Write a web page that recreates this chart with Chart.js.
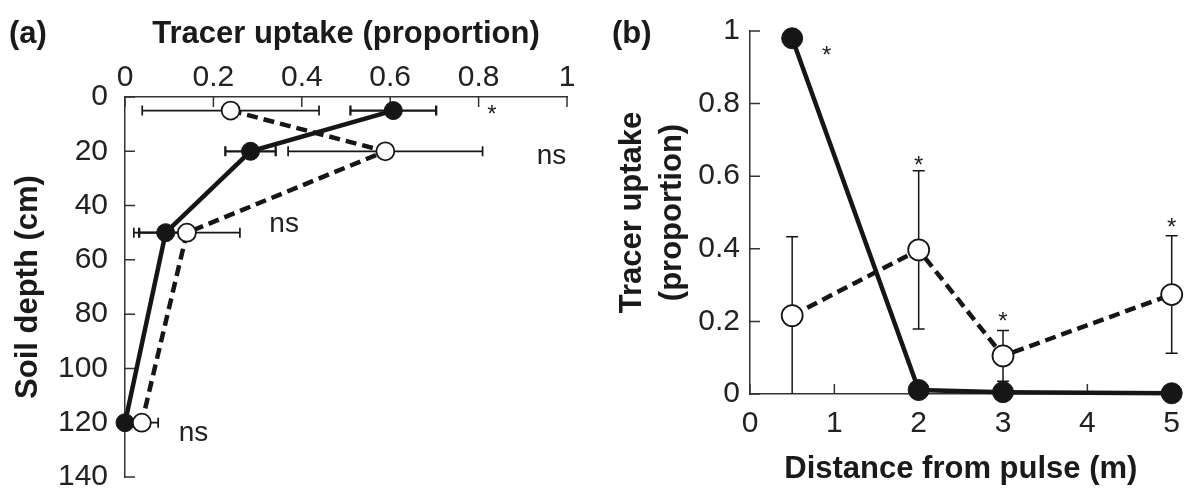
<!DOCTYPE html>
<html>
<head>
<meta charset="utf-8">
<title>Tracer uptake</title>
<script src="https://cdn.jsdelivr.net/npm/chart.js"></script>
<style>
    body { margin: 0; background: #fff; width: 1184px; height: 488px; overflow: hidden; position: relative; font-family: 'Liberation Sans', Arial, sans-serif; }
    .panel { position: absolute; top: 0; }
    #panelA { left: 0; }
    #panelB { left: 590px; }
    .tag { position: absolute; top: 14px; font-size: 31px; line-height: 37px; font-weight: bold; color: #1a1a1a; }
</style>
</head>
<body>
<canvas id="panelA" class="panel" width="590" height="488"></canvas>
<canvas id="panelB" class="panel" width="594" height="488"></canvas>
<div class="tag" style="left: 9px;">(a)</div>
<div class="tag" style="left: 612px;">(b)</div>

<script>
// --- DATA ---
// (a) tracer uptake down the soil profile
const depthCm = [5, 20, 50, 120];
const uptakeFilledA = [0.607, 0.284, 0.092, 0.0];
const errFilledA = [0.097, 0.057, 0.06, 0];
const uptakeOpenA = [0.239, 0.589, 0.14, 0.038];
const errOpenA = [0.2, 0.22, 0.12, 0.037];

// (b) tracer uptake with distance from the pulse
const distanceM = [0.5, 2, 3, 5];
const uptakeFilledB = [0.98, 0.011, 0.005, 0.002];
const uptakeOpenB = [0.216, 0.397, 0.105, 0.274];
const errOpenB = [0.217, 0.218, 0.07, 0.162];

// ticks
const uptakeTicks = [0, 0.2, 0.4, 0.6, 0.8, 1];
const uptakeLabels = ['0', '0.2', '0.4', '0.6', '0.8', '1'];
const depthTicks = [0, 20, 40, 60, 80, 100, 120, 140];
const distanceTicks = [0, 1, 2, 3, 4, 5];

// significance marks: [text, x, y] in data units
const notesA = [['*', 0.83, 5], ['ns', 0.965, 22], ['ns', 0.36, 47], ['ns', 0.155, 124]];
const notesB = [['*', 0.91, 0.945], ['*', 2, 0.64], ['*', 3, 0.21], ['*', 5, 0.47]];

const INK = '#161616';
Chart.defaults.font.family = "'Liberation Sans', Arial, sans-serif";
Chart.defaults.color = '#222';

// inward tick marks, error bars and the ns / * marks
const panelExtras = {
    id: 'panelExtras',
    beforeDatasetsDraw(chart, args, opts) {
        const ctx = chart.ctx;
        const xs = chart.scales.x, ys = chart.scales.y;
        const area = chart.chartArea;
        ctx.save();
        ctx.strokeStyle = '#333';
        ctx.lineWidth = 1.5;
        ctx.beginPath();
        xs.ticks.forEach(t => {
            const px = xs.getPixelForValue(t.value);
            if (xs.position === 'top') { ctx.moveTo(px, area.top); ctx.lineTo(px, area.top + 10); }
            else { ctx.moveTo(px, area.bottom); ctx.lineTo(px, area.bottom - 10); }
        });
        ys.ticks.forEach(t => {
            const py = ys.getPixelForValue(t.value);
            ctx.moveTo(area.left, py); ctx.lineTo(area.left + 10, py);
        });
        ctx.stroke();

        chart.data.datasets.forEach(ds => {
            if (!ds.errors) return;
            ctx.strokeStyle = INK;
            ctx.lineWidth = ds.errWidth || 1.5;
            ctx.beginPath();
            ds.data.forEach((p, i) => {
                const e = ds.errors[i];
                if (!e) return;
                if (ds.errAxis === 'x') {
                    const py = ys.getPixelForValue(p.y);
                    const x1 = xs.getPixelForValue(Math.max(xs.min, p.x - e));
                    const x2 = xs.getPixelForValue(p.x + e);
                    ctx.moveTo(x1, py); ctx.lineTo(x2, py);
                    ctx.moveTo(x1, py - 5); ctx.lineTo(x1, py + 5);
                    ctx.moveTo(x2, py - 5); ctx.lineTo(x2, py + 5);
                } else {
                    const px = xs.getPixelForValue(p.x);
                    const lo = Math.max(ys.min, p.y - e);
                    const y1 = ys.getPixelForValue(lo);
                    const y2 = ys.getPixelForValue(p.y + e);
                    ctx.moveTo(px, y1); ctx.lineTo(px, y2);
                    ctx.moveTo(px - 6, y2); ctx.lineTo(px + 6, y2);
                    if (lo > ys.min) { ctx.moveTo(px - 6, y1); ctx.lineTo(px + 6, y1); }
                }
            });
            ctx.stroke();
        });
        ctx.restore();
    },
    afterDatasetsDraw(chart, args, opts) {
        const ctx = chart.ctx;
        const xs = chart.scales.x, ys = chart.scales.y;
        ctx.save();
        ctx.fillStyle = '#222';
        ctx.textAlign = 'center';
        ctx.textBaseline = 'middle';
        (opts.notes || []).forEach(([text, x, y]) => {
            const px = xs.getPixelForValue(x), py = ys.getPixelForValue(y);
            if (text === '*') {
                ctx.font = "24px 'Liberation Sans', Arial, sans-serif";
                ctx.fillText(text, px, py + 5);
            } else {
                ctx.font = "28px 'Liberation Sans', Arial, sans-serif";
                ctx.fillText(text, px, py);
            }
        });
        ctx.restore();
    }
};

function fixedTicks(values) {
    return scale => { scale.ticks = values.map(v => ({ value: v })); };
}

const axisBorder = { display: true, color: '#333', width: 1.5 };
const noGrid = { display: false, drawTicks: false };
const tickFont = { size: 30 };
const titleFont = { size: 31, weight: 'bold', lineHeight: 1.2 };

function points(xv, yv) {
    return xv.map((x, i) => ({ x: x, y: yv[i] }));
}

const filledStyle = {
    borderColor: INK, borderWidth: 4.5, showLine: true, tension: 0, clip: false,
    pointBackgroundColor: INK, pointBorderColor: INK, pointBorderWidth: 1
};
const openStyle = {
    borderColor: INK, borderWidth: 4.5, borderDash: [11, 6], showLine: true, tension: 0, clip: false,
    pointBackgroundColor: '#fff', pointBorderColor: INK, pointBorderWidth: 1.8
};

// --- (a) ---
new Chart(document.getElementById('panelA'), {
    type: 'scatter',
    data: {
        datasets: [
            Object.assign({}, openStyle, {
                label: 'open', order: 0, pointRadius: 9,
                data: points(uptakeOpenA, depthCm),
                errors: errOpenA, errAxis: 'x', errWidth: 1.7
            }),
            Object.assign({}, filledStyle, {
                label: 'filled', order: 1, pointRadius: 9,
                data: points(uptakeFilledA, depthCm),
                errors: errFilledA, errAxis: 'x', errWidth: 2.3
            })
        ]
    },
    options: {
        responsive: false,
        animation: false,
        events: [],
        layout: { padding: { left: 0, top: 0, right: 23, bottom: 11 } },
        plugins: { legend: { display: false }, tooltip: { enabled: false }, panelExtras: { notes: notesA } },
        scales: {
            x: {
                type: 'linear', position: 'top', min: 0, max: 1,
                afterBuildTicks: fixedTicks(uptakeTicks),
                afterFit: s => { s.height = 97; s.paddingLeft = 0; s.paddingRight = 0; },
                grid: noGrid, border: axisBorder,
                ticks: { padding: 1, font: tickFont, maxRotation: 0, autoSkip: false, callback: (v, i) => uptakeLabels[i] },
                title: { display: true, text: 'Tracer uptake (proportion)', color: '#1a1a1a', font: titleFont, padding: { top: 16, bottom: 0 } }
            },
            y: {
                type: 'linear', reverse: true, min: 0, max: 140,
                afterBuildTicks: fixedTicks(depthTicks),
                afterFit: s => { s.width = 125; s.paddingTop = 0; s.paddingBottom = 0; },
                grid: noGrid, border: axisBorder,
                ticks: { padding: 17, font: tickFont, autoSkip: false, callback: v => String(v) },
                title: { display: true, text: 'Soil depth (cm)', color: '#1a1a1a', font: titleFont, padding: { top: 10, bottom: 0 } }
            }
        }
    },
    plugins: [panelExtras]
});

// --- (b) ---
new Chart(document.getElementById('panelB'), {
    type: 'scatter',
    data: {
        datasets: [
            Object.assign({}, openStyle, {
                label: 'open', order: 0, pointRadius: 10.5,
                data: points(distanceM, uptakeOpenB),
                errors: errOpenB, errAxis: 'y', errWidth: 1.5
            }),
            Object.assign({}, filledStyle, {
                label: 'filled', order: 1, pointRadius: 10.5,
                data: points(distanceM, uptakeFilledB)
            })
        ]
    },
    options: {
        responsive: false,
        animation: false,
        events: [],
        layout: { padding: { left: 0, top: 31, right: 10, bottom: 0 } },
        plugins: { legend: { display: false }, tooltip: { enabled: false }, panelExtras: { notes: notesB } },
        scales: {
            x: {
                type: 'linear', position: 'bottom', min: 0, max: 5,
                afterBuildTicks: fixedTicks(distanceTicks),
                afterFit: s => { s.height = 94; s.paddingLeft = 0; s.paddingRight = 0; },
                grid: noGrid, border: axisBorder,
                ticks: { padding: 12, font: tickFont, maxRotation: 0, autoSkip: false, callback: v => String(v) },
                title: { display: true, text: 'Distance from pulse (m)', color: '#1a1a1a', font: titleFont, padding: { top: 0, bottom: 0 } }
            },
            y: {
                type: 'linear', min: 0, max: 1,
                afterBuildTicks: fixedTicks(uptakeTicks),
                afterFit: s => { s.width = 160; s.paddingTop = 0; s.paddingBottom = 0; },
                grid: noGrid, border: axisBorder,
                ticks: { padding: 10, font: tickFont, autoSkip: false, callback: (v, i) => uptakeLabels[i] },
                title: { display: true, text: ['Tracer uptake', '(proportion)'], color: '#1a1a1a', font: { size: 31, weight: 'bold', lineHeight: 1.3 }, padding: { top: 22, bottom: 0 } }
            }
        }
    },
    plugins: [panelExtras]
});
</script>
</body>
</html>
